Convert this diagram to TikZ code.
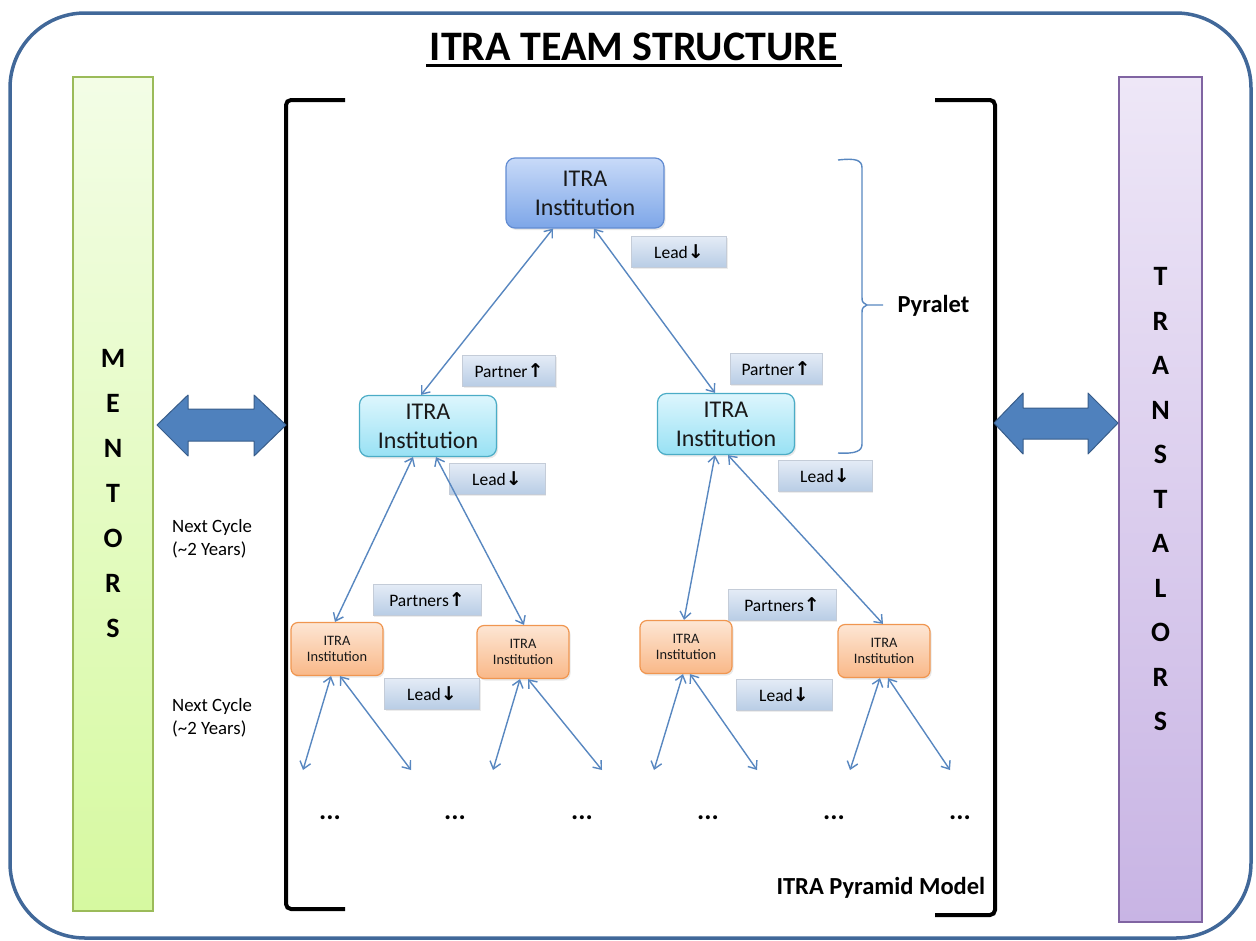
\documentclass[tikz,border=0pt]{standalone}
\usepackage{fontspec}
\setmainfont{Carlito}
\newfontfamily\arrowfont{DejaVu Sans}
\usetikzlibrary{arrows.meta,shadows}

\definecolor{framecol}{RGB}{65,104,153}
\definecolor{linkblue}{RGB}{88,135,192}
\definecolor{arrowfill}{RGB}{79,129,189}
\definecolor{arrowline}{RGB}{56,93,138}
\definecolor{toptop}{RGB}{200,218,248}
\definecolor{topbot}{RGB}{125,166,232}
\definecolor{topline}{RGB}{98,140,210}
\definecolor{midtop}{RGB}{221,246,253}
\definecolor{midbot}{RGB}{152,225,244}
\definecolor{midline}{RGB}{75,172,198}
\definecolor{smalltop}{RGB}{253,230,212}
\definecolor{smallbot}{RGB}{249,184,136}
\definecolor{smallline}{RGB}{240,150,80}
\definecolor{tagtop}{RGB}{228,235,246}
\definecolor{tagbot}{RGB}{184,204,229}
\definecolor{tagline}{RGB}{196,204,216}
\definecolor{greentop}{RGB}{243,253,230}
\definecolor{greenbot}{RGB}{214,249,160}
\definecolor{greenline}{RGB}{155,187,89}
\definecolor{violettop}{RGB}{238,231,247}
\definecolor{violetbot}{RGB}{200,180,228}
\definecolor{violetline}{RGB}{128,100,162}

\newcommand{\setsize}[2]{\fontsize{#1}{#2}\selectfont}
\newcommand{\upmark}{{\arrowfont\bfseries\setsize{19}{19}↑}}
\newcommand{\downmark}{{\arrowfont\bfseries\setsize{19}{19}↓}}

\begin{document}
\begin{tikzpicture}[x=1pt, y=-1pt,
    inst/.style={rounded corners=9pt, align=center, inner sep=0pt, text=black!90,
        line width=1.2pt, drop shadow={opacity=0.18, shadow xshift=1.5pt, shadow yshift=-2pt}},
    bigbox/.style={inst, minimum width=158pt, minimum height=70pt, draw=topline,
        top color=toptop, bottom color=topbot, font=\setsize{24}{29}},
    midbox/.style={inst, minimum width=137pt, minimum height=61pt, draw=midline,
        top color=midtop, bottom color=midbot, font=\setsize{24}{29}},
    smallbox/.style={inst, rounded corners=7pt, minimum width=92pt, minimum height=53pt,
        draw=smallline, top color=smalltop, bottom color=smallbot, font=\setsize{14.4}{16}},
    tag/.style={draw=tagline, line width=0.8pt, top color=tagtop, bottom color=tagbot,
        minimum height=31pt, inner sep=0pt, font=\setsize{17.5}{19},
        drop shadow={opacity=0.15, shadow xshift=1pt, shadow yshift=-1.5pt}},
    link/.style={draw=linkblue, line width=1.4pt,
        {Straight Barb[length=7pt,width=11pt]}-{Straight Barb[length=7pt,width=11pt]}},
    bar/.style={minimum width=80pt, align=center, inner sep=0pt, line width=1.2pt},
    bigarrow/.style={fill=arrowfill, draw=arrowline, line width=1pt, line join=round},
    bracket/.style={line width=4pt, rounded corners=5pt},
    note/.style={align=left, anchor=west, inner sep=0pt, font=\setsize{18.8}{23}},
    caption/.style={anchor=west, font=\setsize{24.5}{28}\bfseries}
]
\useasboundingbox (0,0) rectangle (1256,940);

% Frame and title
\draw[framecol, line width=3.5pt, rounded corners=75pt] (10,13) rectangle (1251,938);
\node[font=\setsize{42}{48}\bfseries] (title) at (634,47) {ITRA TEAM STRUCTURE};
\draw[line width=2.5pt] ([yshift=-5pt]title.base west) -- ([yshift=-5pt]title.base east);

% Side bars
\node[bar, minimum height=834pt, draw=greenline, top color=greentop, bottom color=greenbot,
    font=\setsize{28}{45}\bfseries] (mentors) at (113,494)
    {M\\E\\N\\T\\O\\R\\S};
\node[bar, minimum width=83pt, minimum height=845pt, draw=violetline, top color=violettop,
    bottom color=violetbot, font=\setsize{28}{44.5}\bfseries] (translators) at (1160.5,499.5)
    {T\\R\\A\\N\\S\\T\\A\\L\\O\\R\\S};

% Pyramid brackets
\draw[bracket] (345,100) -- (286,100) -- (286,909) -- (345,909);
\draw[bracket] (935,100) -- (995,100) -- (995,915) -- (935,915);

% Block arrows
\draw[bigarrow] (157,425) -- (188,395) -- (188,409) -- (254,409) -- (254,395) -- (286,425)
    -- (254,456) -- (254,441) -- (188,441) -- (188,456) -- cycle;
\draw[bigarrow] (994,423) -- (1023,393) -- (1023,408) -- (1088,408) -- (1088,393) -- (1118,423)
    -- (1088,454) -- (1088,439) -- (1023,439) -- (1023,454) -- cycle;

% Institutions
\node[bigbox] (top) at (585,193) {ITRA\\Institution};
\node[midbox] (midl) at (428,426) {ITRA\\Institution};
\node[midbox] (midr) at (726,424) {ITRA\\Institution};
\node[smallbox] (sm1) at (337,649) {ITRA\\Institution};
\node[smallbox] (sm2) at (523,652) {ITRA\\Institution};
\node[smallbox] (sm3) at (686,647) {ITRA\\Institution};
\node[smallbox] (sm4) at (884,651) {ITRA\\Institution};

% Role tags
\node[tag, minimum width=95pt] (lead0) at (679,252) {Lead\downmark};
\node[tag, minimum width=93pt] (partl) at (509,371) {Partner\upmark};
\node[tag, minimum width=92pt] (partr) at (776,369) {Partner\upmark};
\node[tag, minimum width=96pt] (leadl) at (497,479) {Lead\downmark};
\node[tag, minimum width=94pt] (leadr) at (825,476) {Lead\downmark};
\node[tag, minimum width=108pt] (partsl) at (427,600) {Partners\upmark};
\node[tag, minimum width=108pt] (partsr) at (782,605) {Partners\upmark};
\node[tag, minimum width=95pt] (leadsl) at (432,694) {Lead\downmark};
\node[tag, minimum width=96pt] (leadsr) at (784,695) {Lead\downmark};

% Links
\draw[link] ([xshift=-32pt]top.south) -- ([xshift=-7pt]midl.north);
\draw[link] ([xshift=9pt]top.south) -- ([xshift=-11pt]midr.north);
\draw[link] ([xshift=-15pt]midl.south) -- ([xshift=-2pt]sm1.north);
\draw[link] ([xshift=8pt]midl.south) -- ([xshift=1pt]sm2.north);
\draw[link] ([xshift=-11pt]midr.south) -- ([xshift=-2pt]sm3.north);
\draw[link] ([xshift=2pt]midr.south) -- ([xshift=-1pt]sm4.north);

% Next level
\coordinate (leaf1) at (303,770);
\coordinate (leaf2) at (411,770);
\coordinate (leaf3) at (493,770);
\coordinate (leaf4) at (602,770);
\coordinate (leaf5) at (654,770);
\coordinate (leaf6) at (757,770);
\coordinate (leaf7) at (850,770);
\coordinate (leaf8) at (950,770);
\draw[link] ([xshift=-6pt]sm1.south) -- (leaf1);
\draw[link] ([xshift=3pt]sm1.south) -- (leaf2);
\draw[link] ([xshift=-3pt]sm2.south) -- (leaf3);
\draw[link] ([xshift=5pt]sm2.south) -- (leaf4);
\draw[link] ([xshift=-3pt]sm3.south) -- (leaf5);
\draw[link] ([xshift=4pt]sm3.south) -- (leaf6);
\draw[link] ([xshift=-4pt]sm4.south) -- (leaf7);
\draw[link] ([xshift=4pt]sm4.south) -- (leaf8);
\foreach \x [count=\i] in {330,455,582,708,834,960}
    \node[font=\setsize{27}{30}\bfseries] (dots\i) at (\x,818) {...};

% Cycles
\node[note] (cycle1) at (172,539) {Next Cycle\\(\textasciitilde2 Years)};
\node[note] (cycle2) at (172,718) {Next Cycle\\(\textasciitilde2 Years)};

% Pyralet brace
\coordinate (pyrtop) at (838,160);
\coordinate (pyrtip) at (883,305);
\coordinate (pyrbot) at (838,453);
\draw[linkblue, line width=1.4pt] (pyrtop) .. controls (856,158) and (862,160) .. (862,168)
    -- (862,296) .. controls (862,302) .. (867,305) -- (pyrtip)
    (867,305) .. controls (862,308) .. (862,314)
    -- (862,444) .. controls (862,451) and (856,454) .. (pyrbot);
\node[caption] (pyralet) at (894,306) {Pyralet};

\node[caption] (model) at (773,888) {ITRA Pyramid Model};
\end{tikzpicture}
\end{document}
